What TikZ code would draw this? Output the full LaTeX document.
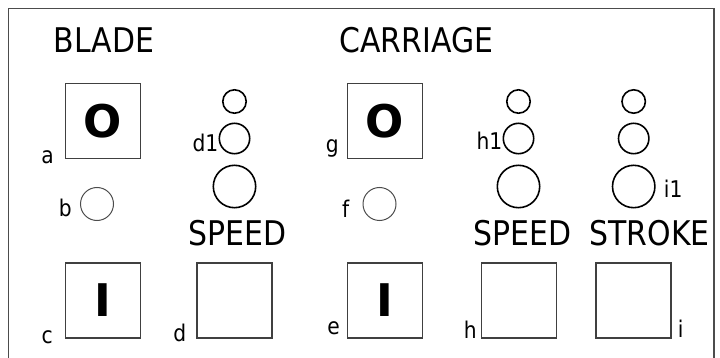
\documentclass[tikz,border=0pt]{standalone}
\usepackage{fontspec}
\setmainfont[FakeStretch=0.88]{DejaVu Sans}
\newfontfamily\btnfont{DejaVu Sans}
\usetikzlibrary{positioning}
\tikzset{
  btn/.style={draw=black!75, line width=1.2pt, minimum size=75pt, inner sep=0pt,
    font=\btnfont\bfseries\fontsize{45}{45}\selectfont},
  lamp/.style={circle, draw, line width=1.6pt, inner sep=0pt},
  tag/.style={inner sep=0pt, font=\fontsize{23}{23}\selectfont},
  heading/.style={inner sep=0pt, anchor=base, font=\fontsize{34}{34}\selectfont}
}
\begin{document}
\begin{tikzpicture}[x=1pt,y=-1pt]
    \useasboundingbox (0,0) rectangle (720,358);
    % Frame
    \draw[black!70, line width=1.2pt] (8.5,358) -- (8.5,8.5) -- (714,8.5) -- (714,358);

    % Headings
    \node[heading] (blade) at (104,53) {BLADE};
    \node[heading] (carriage) at (416.5,53) {CARRIAGE};
    \node[heading] (bladeSpeedT) at (237.5,245) {SPEED};
    \node[heading] (carrSpeedT) at (522.5,245) {SPEED};
    \node[heading] (carrStrokeT) at (649.5,245) {STROKE};

    % Buttons
    \node[btn] (bladeO) at (103,121) {O};
    \node[btn] (bladeI) at (103,300.5) {I};
    \node[btn] (bladeSpeed) at (234.5,300.5) {};
    \node[btn] (carrO) at (385,121) {O};
    \node[btn] (carrI) at (385,300.5) {I};
    \node[btn] (carrSpeed) at (519,300.5) {};
    \node[btn] (carrStroke) at (633.5,300.5) {};

    % Lamps
    \node[lamp, draw=black!70, line width=1pt, minimum size=33pt] (bladeLamp) at (97,204) {};
    \node[lamp, draw=black!70, line width=1pt, minimum size=33pt] (carrLamp) at (379.5,204) {};
    \foreach \col/\x in {bladeS/234.5, carrS/518.5, strk/633.7} {
        \node[lamp, minimum size=23.4pt] (\col1) at (\x,101.5) {};
        \node[lamp, minimum size=30.4pt] (\col2) at (\x,138.5) {};
        \node[lamp, minimum size=42.4pt] (\col3) at (\x,186.5) {};
    }

    % Letters
    \node[tag, anchor=base east] (la) at ([xshift=-11pt, yshift=-4pt]bladeO.south west) {a};
    \node[tag, anchor=base east] (lb) at ([xshift=-8pt, yshift=-13pt]bladeLamp.west) {b};
    \node[tag, anchor=base east] (lc) at ([xshift=-12pt, yshift=-4.5pt]bladeI.south west) {c};
    \node[tag, anchor=base east] (ld) at ([xshift=-10pt, yshift=-2.5pt]bladeSpeed.south west) {d};
    \node[tag, anchor=base east] (ld1) at ([xshift=0pt, yshift=-13.5pt]bladeS2.west) {d1};
    \node[tag, anchor=base east] (le) at ([xshift=-7pt, yshift=4pt]carrI.south west) {e};
    \node[tag, anchor=base east] (lf) at ([xshift=-13pt, yshift=-14pt]carrLamp.west) {f};
    \node[tag, anchor=base east] (lg) at ([xshift=-8pt, yshift=7pt]carrO.south west) {g};
    \node[tag, anchor=base east] (lh) at ([xshift=-4pt]carrSpeed.south west) {h};
    \node[tag, anchor=base east] (lh1) at ([xshift=0pt, yshift=-11.5pt]carrS2.west) {h1};
    \node[tag, anchor=base west] (li) at ([xshift=6pt, yshift=1pt]carrStroke.south east) {i};
    \node[tag, anchor=base west] (li1) at ([xshift=8pt, yshift=-10.5pt]strk3.east) {i1};

\end{tikzpicture}
\end{document}
